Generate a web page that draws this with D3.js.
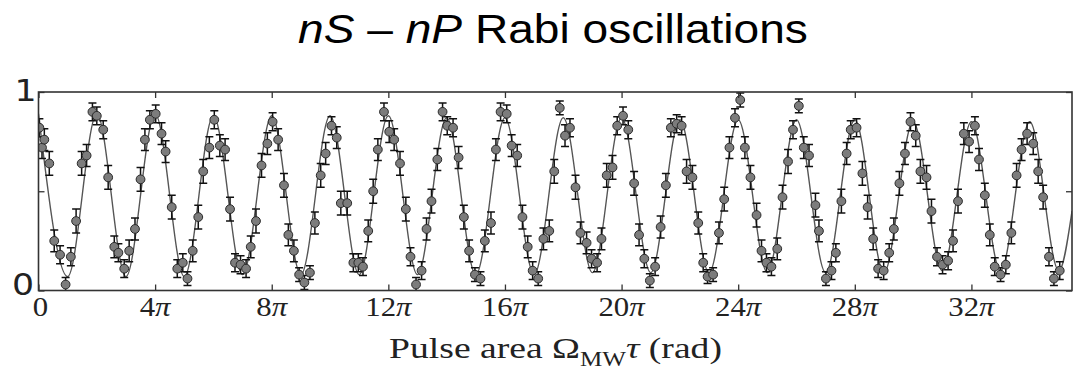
<!DOCTYPE html>
<html><head><meta charset="utf-8">
<script src="https://cdn.jsdelivr.net/npm/d3@7"></script>
<style>body{margin:0;background:#fff}svg{display:block}</style>
</head><body><svg id="c" width="1073" height="376"></svg>
<script>
// Pulse area (units of pi) of each measurement
const pulseArea = [
 0.03,0.12,0.20,0.37,0.54,0.74,0.93,1.11,1.29,1.48,1.65,1.85,2.00,2.22,2.39,2.60,2.74,2.94,3.11,3.31,3.50,3.65,3.82,4.02,4.22,4.36,4.57,4.76,4.95,5.11,5.29,5.48,
 5.65,5.86,6.03,6.22,6.40,6.57,6.74,6.93,7.12,7.28,7.46,7.65,7.85,8.03,8.22,8.42,8.57,8.76,8.94,9.12,9.31,9.48,9.68,9.85,10.05,10.23,10.37,10.59,10.80,10.97,11.13,11.31,11.48,11.64,
 11.85,12.03,12.20,12.40,12.60,12.76,12.95,13.14,13.31,13.48,13.68,13.86,14.02,14.22,14.41,14.59,14.77,14.97,15.16,15.31,15.52,15.69,15.85,16.06,16.23,16.42,16.60,16.78,16.95,17.14,17.32,17.52,
 17.69,17.88,18.06,18.23,18.42,18.59,18.80,18.97,19.16,19.31,19.49,19.69,19.85,20.05,20.23,20.43,20.60,20.78,20.97,21.15,21.34,21.52,21.69,21.89,22.06,22.23,22.43,22.63,22.80,22.95,23.14,23.34,23.52,
 23.70,23.89,24.07,24.23,24.42,24.63,24.80,24.97,25.14,25.34,25.52,25.71,25.88,26.08,26.25,26.43,26.65,26.77,27.01,27.20,27.35,27.54,27.72,27.86,28.06,28.26,28.44,28.63,28.80,28.99,29.18,29.34,
 29.53,29.72,29.91,30.09,30.25,30.46,30.63,30.82,31.01,31.20,31.37,31.54,31.74,31.92,32.12,32.26,32.46,32.63,32.80,33.00,33.18,33.37,33.55,33.72,33.91,34.12,34.29,34.46,34.66,34.83,35.03
];
// Measured population
const population = [
 0.82,0.72,0.76,0.64,0.25,0.18,0.03,0.17,0.35,0.64,0.68,0.90,0.88,0.81,0.57,0.22,0.19,0.11,0.20,0.31,0.56,0.76,0.86,0.89,0.79,0.70,0.42,0.11,0.14,0.06,0.20,0.37,
 0.60,0.72,0.86,0.73,0.71,0.41,0.14,0.13,0.11,0.22,0.35,0.63,0.74,0.85,0.76,0.53,0.28,0.20,0.08,0.04,0.09,0.34,0.58,0.69,0.83,0.77,0.44,0.44,0.14,0.14,0.12,0.30,0.50,0.71,
 0.90,0.80,0.76,0.64,0.41,0.17,0.03,0.10,0.31,0.45,0.66,0.90,0.83,0.82,0.67,0.37,0.20,0.08,0.06,0.25,0.34,0.71,0.90,0.89,0.73,0.68,0.37,0.22,0.10,0.06,0.26,0.30,
 0.60,0.92,0.78,0.82,0.52,0.29,0.24,0.16,0.14,0.26,0.58,0.62,0.83,0.88,0.81,0.54,0.28,0.16,0.05,0.12,0.32,0.53,0.82,0.84,0.83,0.60,0.57,0.34,0.14,0.07,0.08,0.29,0.46,
 0.72,0.87,0.96,0.72,0.57,0.38,0.20,0.14,0.12,0.21,0.47,0.65,0.81,0.93,0.72,0.68,0.43,0.30,0.06,0.10,0.19,0.45,0.69,0.81,0.82,0.59,0.42,0.26,0.11,0.10,0.19,0.31,
 0.54,0.69,0.85,0.78,0.60,0.57,0.40,0.17,0.13,0.15,0.25,0.45,0.79,0.75,0.83,0.66,0.48,0.28,0.12,0.08,0.13,0.29,0.58,0.71,0.79,0.74,0.60,0.47,0.17,0.06,0.10
];
// Half-length of each error bar
const errBar = [
 0.045,0.055,0.055,0.06,0.055,0.045,0.035,0.045,0.06,0.06,0.055,0.045,0.045,0.045,0.06,0.055,0.045,0.045,0.055,0.055,0.06,0.055,0.045,0.045,0.055,0.055,0.06,0.045,0.045,0.035,0.055,0.06,
 0.06,0.055,0.045,0.055,0.055,0.06,0.045,0.045,0.045,0.055,0.06,0.06,0.055,0.045,0.055,0.06,0.055,0.055,0.035,0.035,0.035,0.055,0.06,0.055,0.045,0.055,0.06,0.06,0.045,0.045,0.045,0.055,0.06,0.055,
 0.045,0.055,0.055,0.06,0.06,0.045,0.035,0.045,0.055,0.06,0.055,0.045,0.045,0.045,0.055,0.06,0.055,0.035,0.035,0.055,0.055,0.055,0.045,0.045,0.055,0.055,0.06,0.055,0.045,0.035,0.055,0.055,
 0.06,0.035,0.055,0.045,0.06,0.055,0.055,0.045,0.045,0.055,0.06,0.06,0.045,0.045,0.045,0.06,0.055,0.045,0.035,0.045,0.055,0.06,0.045,0.045,0.045,0.06,0.06,0.055,0.045,0.035,0.035,0.055,0.06,
 0.055,0.045,0.035,0.055,0.06,0.06,0.055,0.045,0.045,0.055,0.06,0.06,0.045,0.035,0.055,0.055,0.06,0.055,0.035,0.045,0.045,0.06,0.055,0.045,0.045,0.06,0.06,0.055,0.045,0.045,0.045,0.055,
 0.06,0.055,0.045,0.055,0.06,0.06,0.06,0.045,0.045,0.045,0.055,0.06,0.055,0.055,0.045,0.055,0.06,0.055,0.045,0.035,0.045,0.055,0.06,0.055,0.055,0.055,0.06,0.06,0.045,0.035,0.045
];
// Fitted curve: extrema (pulse area in pi, value)
const fitX = [0,1,2,3,4,5,6,7,8,9,10,11,12,13,14,15,16,17,18,19,20,21,22,23,24,25,26,27,28,29,30,31,32,33,34,35,35.45];
const fitY = [0.89,0.07,0.89,0.07,0.89,0.07,0.88,0.08,0.88,0.08,0.88,0.08,0.88,0.08,0.87,0.08,0.87,0.08,0.87,0.09,0.87,0.09,0.86,0.09,0.86,0.09,0.86,0.09,0.86,0.09,0.85,0.10,0.85,0.10,0.85,0.10,0.40];
const xDomain = [0, 35.45];
const xTickValues = [0,4,8,12,16,20,24,28,32];
const xTickLabels = ["0","4","8","12","16","20","24","28","32"]; // each followed by π
const yTickValues = [0, 0.5, 1];
const yTickLabels = ["0", "", "1"];

const svg = d3.select("#c");
const x = d3.scaleLinear().domain(xDomain).range([38.5, 1072]);
const y = d3.scaleLinear().domain([0, 1]).range([290.5, 92]);
const ink = "#333";

svg.append("defs").append("clipPath").attr("id","clip").append("rect")
  .attr("x", x(xDomain[0])).attr("y", y(1)).attr("width", x(xDomain[1]) - x(xDomain[0])).attr("height", y(0) - y(1));

const plot = svg.append("g").attr("clip-path", "url(#clip)");

// fit line
plot.append("path")
  .datum(d3.zip(fitX, fitY))
  .attr("fill", "none").attr("stroke", "#555").attr("stroke-width", 1.4)
  .attr("d", d3.line().x(d => x(d[0])).y(d => y(d[1])).curve(d3.curveMonotoneX));

const pts = pulseArea.map((p, i) => ({p, v: population[i], e: errBar[i]}));

// error bars
const eb = plot.append("g").attr("stroke", "#111").attr("stroke-width", 1.5).attr("fill", "none");
pts.forEach(d => {
  const cx = x(d.p), y1 = y(d.v - d.e), y2 = y(d.v + d.e);
  eb.append("line").attr("x1", cx).attr("x2", cx).attr("y1", y1).attr("y2", y2);
  eb.append("line").attr("x1", cx - 4).attr("x2", cx + 4).attr("y1", y1).attr("y2", y1);
  eb.append("line").attr("x1", cx - 4).attr("x2", cx + 4).attr("y1", y2).attr("y2", y2);
});

// markers
plot.append("g").selectAll("circle").data(pts).join("circle")
  .attr("cx", d => x(d.p)).attr("cy", d => y(d.v)).attr("r", 4.4)
  .attr("fill", "#7c7c7c").attr("stroke", "#2a2a2a").attr("stroke-width", 1);

// axes ticks (inward)
function styleAxis(g) {
  g.select(".domain").remove();
  g.selectAll(".tick line").attr("stroke", ink).attr("stroke-width", 1.3);
  g.selectAll(".tick text").remove();
}
svg.append("g").attr("transform", `translate(0,${y(0)})`)
  .call(d3.axisBottom(x).tickValues(xTickValues).tickSize(-6)).call(styleAxis);
svg.append("g").attr("transform", `translate(0,${y(1)})`)
  .call(d3.axisTop(x).tickValues(xTickValues).tickSize(-6)).call(styleAxis);
svg.append("g").attr("transform", `translate(${x(xDomain[0])},0)`)
  .call(d3.axisLeft(y).tickValues(yTickValues).tickSize(-6)).call(styleAxis);
svg.append("g").attr("transform", `translate(${x(xDomain[1])},0)`)
  .call(d3.axisRight(y).tickValues(yTickValues).tickSize(-6)).call(styleAxis);

// frame
svg.append("rect")
  .attr("x", x(xDomain[0])).attr("y", y(1))
  .attr("width", x(xDomain[1]) - x(xDomain[0])).attr("height", y(0) - y(1))
  .attr("fill", "none").attr("stroke", ink).attr("stroke-width", 1.6);

// x tick labels
xTickValues.forEach((v, i) => {
  const t = svg.append("text")
    .attr("transform", `translate(${x(v) + (v === 0 ? 2 : 0)},316) scale(1.1,1)`)
    .attr("text-anchor", "middle")
    .attr("font-family", "Liberation Serif, Times New Roman, serif")
    .attr("font-size", 28).attr("fill", "#222");
  t.append("tspan").text(xTickLabels[i]);
  if (v !== 0) t.append("tspan").attr("font-style", "italic").text("π");
});

// y tick labels
yTickValues.forEach((v, i) => {
  if (!yTickLabels[i]) return;
  svg.append("text")
    .attr("transform", `translate(${v === 1 ? 36.5 : 34},${v === 1 ? 101 : 295}) scale(1.12,1)`)
    .attr("text-anchor", "end")
    .attr("font-family", "DejaVu Sans, sans-serif")
    .attr("font-size", 31).attr("fill", "#222")
    .text(yTickLabels[i]);
});

function fitWidth(sel, cx, w) {
  const bb = sel.node().getBBox();
  const s = w / bb.width;
  const mid = bb.x + bb.width / 2;
  sel.attr("transform", `translate(${cx},0) scale(${s},1) translate(${-mid},0)`);
}

// title
const title = svg.append("text").attr("x", 0).attr("y", 43)
  .attr("text-anchor", "middle")
  .attr("font-family", "Liberation Sans, Arial, sans-serif")
  .attr("font-size", 40).attr("fill", "#000");
title.append("tspan").attr("font-style", "italic").text("nS");
title.append("tspan").text(" – ");
title.append("tspan").attr("font-style", "italic").text("nP");
title.append("tspan").text(" Rabi oscillations");
fitWidth(title, 553, 510);

// x axis label
const xl = svg.append("text").attr("x", 0).attr("y", 358)
  .attr("text-anchor", "middle")
  .attr("font-family", "Liberation Serif, Times New Roman, serif")
  .attr("font-size", 30).attr("fill", "#222");
xl.append("tspan").text("Pulse area Ω");
xl.append("tspan").attr("font-size", 20).attr("dy", 8).text("MW");
xl.append("tspan").attr("font-style", "italic").attr("dy", -8).text("τ");
xl.append("tspan").text(" (rad)");
fitWidth(xl, 555.5, 333);
</script></body></html>
